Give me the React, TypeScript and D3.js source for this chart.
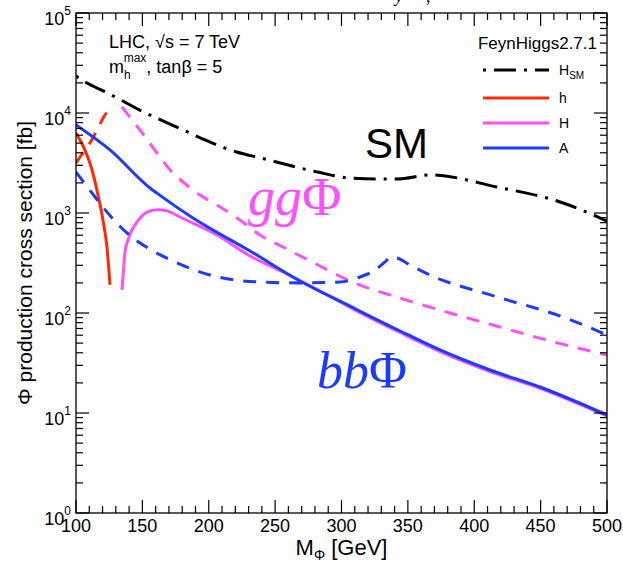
import React from 'react';
import * as d3 from 'd3';

const W = 623;
const H = 565;
const PLOT = { left: 76, right: 607, top: 13, bottom: 513 };

const xMajorTicks = [100, 150, 200, 250, 300, 350, 400, 450, 500];
const yDecades = [0, 1, 2, 3, 4, 5];

// H_SM (dash-dot)
const smMass = [100, 107, 124, 148, 184, 199, 221, 239, 282, 306, 327, 342, 367, 417, 467, 495, 500];
const smXsec = [23400, 20400, 15800, 10700, 6460, 5250, 4070, 3550, 2570, 2240, 2190, 2190, 2400, 1820, 1260, 890, 830];

// h: gg (dashed) and bb (solid)
const hGgMass = [100, 103.0, 106.8, 110.5, 114.3, 118.1, 121.8, 124.9];
const hGgXsec = [3160, 3630, 4270, 5010, 6170, 7760, 9550, 10700];
const hBbMass = [100, 106.0, 112.1, 116.6, 120.3, 123.4, 125.6];
const hBbXsec = [6310, 4470, 2690, 1510, 851, 447, 191];

// H: gg (dashed) and bb (solid)
const bigHGgMass = [134.65, 148.2, 163.3, 172.3, 179.8, 193.4, 206.2, 223.5, 238.6, 255.9, 283.8, 306.4, 344.1, 381.7, 419.4, 457.1, 500];
const bigHGgXsec = [11500, 6760, 3630, 2570, 2090, 1510, 1200, 851, 603, 457, 295, 209, 141, 100, 72.4, 52.5, 38.0];
const bigHBbMass = [134.65, 135.8, 136.9, 139.2, 142.2, 146.0, 153.5, 161.0, 168.5, 178.3, 206.2, 231.1, 255.9, 283.8, 306.4, 344.1, 374.2, 411.9, 449.5, 500];
const bigHBbXsec = [170, 269, 407, 537, 676, 813, 1020, 1080, 1050, 912, 603, 372, 257, 166, 114, 63.8, 41.2, 26.0, 17.6, 9.33];

// A: gg (dashed) and bb (solid)
const aGgMass = [100, 112.1, 123.4, 138.4, 154.2, 173.1, 200.9, 238.6, 268.7, 298.9, 313.9, 325.2, 332.8, 337.3, 341.8, 351.6, 366.7, 417.1, 466.9, 500];
const aGgXsec = [2570, 1580, 1020, 631, 447, 331, 240, 204, 200, 204, 229, 269, 324, 363, 355, 302, 240, 145, 91.2, 60.3];
const aBbMass = [100, 125.6, 155.7, 161.0, 188.1, 231.1, 268.7, 306.4, 344.1, 374.2, 411.9, 449.5, 500];
const aBbXsec = [7590, 4270, 1780, 1580, 891, 417, 209, 117, 66.1, 42.7, 26.9, 18.2, 9.55];

const RED = '#ff2a00';
const MAGENTA = '#ff4fff';
const BLUE = '#1b3cff';
const SANS = 'Liberation Sans, Arial, Helvetica, sans-serif';
const SERIF = 'Liberation Serif, Times New Roman, serif';

const legendItems = [
  { label: 'H', sub: 'SM', color: '#000', dash: '3,8,22,8' },
  { label: 'h', sub: '', color: RED, dash: '' },
  { label: 'H', sub: '', color: MAGENTA, dash: '' },
  { label: 'A', sub: '', color: BLUE, dash: '' },
];

export default function App() {
  const x = d3.scaleLinear().domain([100, 500]).range([PLOT.left, PLOT.right]);
  const y = d3.scaleLog().domain([1, 1e5]).range([PLOT.bottom, PLOT.top]);
  const line = d3
    .line<[number, number]>()
    .x((d) => x(d[0]))
    .y((d) => y(d[1]))
    .curve(d3.curveMonotoneX);
  const zip = (m: number[], v: number[]) => m.map((mm, i) => [mm, v[i]] as [number, number]);

  const curves = [
    { d: line(zip(smMass, smXsec)), color: '#000', dash: '3,8,22,8' },
    { d: line(zip(hGgMass, hGgXsec)), color: RED, dash: '13,10' },
    { d: line(zip(hBbMass, hBbXsec)), color: RED, dash: '' },
    { d: line(zip(bigHGgMass, bigHGgXsec)), color: MAGENTA, dash: '13,10' },
    { d: line(zip(bigHBbMass, bigHBbXsec)), color: MAGENTA, dash: '' },
    { d: line(zip(aGgMass, aGgXsec)), color: BLUE, dash: '13,10' },
    { d: line(zip(aBbMass, aBbXsec)), color: BLUE, dash: '' },
  ];

  const xMinor = d3.range(100, 501, 10).filter((v) => v % 50 !== 0);
  const yAll = y.ticks();
  const isMajorY = (v: number) => Math.abs(Math.log10(v) - Math.round(Math.log10(v))) < 1e-9;

  return (
    <svg width={W} height={H} style={{ position: 'absolute', left: 0, top: 0, background: '#fff' }}>
      <defs>
        <clipPath id="plotclip">
          <rect x={PLOT.left} y={PLOT.top} width={PLOT.right - PLOT.left} height={PLOT.bottom - PLOT.top} />
        </clipPath>
      </defs>
      <rect x={0} y={0} width={W} height={H} fill="#fff" />

      {/* clipped caption fragment at the top */}
      <text x={395} y={2} fontFamily={SERIF} fontStyle="italic" fontSize={18} fill="#000">y</text>
      <text x={426} y={2} fontFamily={SERIF} fontSize={18} fill="#000">,</text>

      {/* curves */}
      <g clipPath="url(#plotclip)" fill="none" strokeWidth={3}>
        {curves.map((c, i) => (
          <path key={i} d={c.d || ''} stroke={c.color} strokeDasharray={c.dash || undefined} />
        ))}
      </g>

      {/* frame */}
      <rect x={PLOT.left} y={PLOT.top} width={PLOT.right - PLOT.left} height={PLOT.bottom - PLOT.top} fill="none" stroke="#000" strokeWidth={1.3} />

      {/* x ticks bottom & top, y ticks left & right */}
      <g stroke="#000" strokeWidth={1.2}>
        {xMajorTicks.map((v) => (
          <g key={'xm' + v}>
            <line x1={x(v)} x2={x(v)} y1={PLOT.bottom} y2={PLOT.bottom - 13} />
            <line x1={x(v)} x2={x(v)} y1={PLOT.top} y2={PLOT.top + 13} />
          </g>
        ))}
        {xMinor.map((v) => (
          <g key={'xn' + v}>
            <line x1={x(v)} x2={x(v)} y1={PLOT.bottom} y2={PLOT.bottom - 7} />
            <line x1={x(v)} x2={x(v)} y1={PLOT.top} y2={PLOT.top + 7} />
          </g>
        ))}
        {yAll.map((v) => {
          const len = isMajorY(v) ? 13 : 7;
          return (
            <g key={'y' + v}>
              <line x1={PLOT.left} x2={PLOT.left + len} y1={y(v)} y2={y(v)} />
              <line x1={PLOT.right} x2={PLOT.right - len} y1={y(v)} y2={y(v)} />
            </g>
          );
        })}
      </g>

      {/* x tick labels */}
      <g fontFamily={SANS} fontSize={18} fill="#000" textAnchor="middle">
        {xMajorTicks.map((v) => (
          <text key={'xl' + v} x={x(v)} y={532}>{v}</text>
        ))}
      </g>

      {/* y tick labels */}
      <g fontFamily={SANS} fill="#000">
        {yDecades.map((p) => {
          const yy = y(Math.pow(10, p));
          return (
            <text key={'yl' + p} x={71} y={yy + 12} textAnchor="end" fontSize={18}>
              10
              <tspan fontSize={12} dy={-10}>{p}</tspan>
            </text>
          );
        })}
      </g>

      {/* axis titles */}
      <text x={(PLOT.left + PLOT.right) / 2} y={555} textAnchor="middle" fontFamily={SANS} fontSize={22} fill="#000">
        M<tspan fontSize={14} dy={5}>Φ</tspan><tspan dy={-5}> [GeV]</tspan>
      </text>
      <text
        transform={`translate(32, ${(PLOT.top + PLOT.bottom) / 2}) rotate(-90)`}
        textAnchor="middle"
        fontFamily={SANS}
        fontSize={21}
        fill="#000"
      >
        Φ production cross section [fb]
      </text>

      {/* annotations */}
      <g fontFamily={SANS} fill="#000">
        <text x={109} y={48} fontSize={18}>LHC, √s = 7 TeV</text>
        <text x={109} y={73} fontSize={18}>
          m<tspan fontSize={12} dy={6}>h</tspan>
          <tspan fontSize={12} dy={-17} dx={-7}>max</tspan>
          <tspan dy={11}>, tanβ = 5</tspan>
        </text>
        <text x={597} y={49} fontSize={17} textAnchor="end">FeynHiggs2.7.1</text>
        <text x={365} y={158} fontSize={42}>SM</text>
      </g>
      <text x={248} y={215} fontFamily={SERIF} fontSize={54} fill={MAGENTA}>
        <tspan fontStyle="italic">gg</tspan>Φ
      </text>
      <text x={317} y={388} fontFamily={SERIF} fontSize={52} fill={BLUE}>
        <tspan fontStyle="italic">bb</tspan>Φ
      </text>

      {/* legend */}
      <g>
        {legendItems.map((it, i) => {
          const ly = [70, 98, 123, 148][i];
          return (
            <g key={'lg' + i}>
              <line x1={483} x2={549} y1={ly} y2={ly} stroke={it.color} strokeWidth={3} strokeDasharray={it.dash || undefined} />
              <text x={559} y={ly + 5} fontFamily={SANS} fontSize={14} fill="#000">
                {it.label}
                {it.sub ? <tspan fontSize={10} dy={4}>{it.sub}</tspan> : null}
              </text>
            </g>
          );
        })}
      </g>
    </svg>
  );
}
